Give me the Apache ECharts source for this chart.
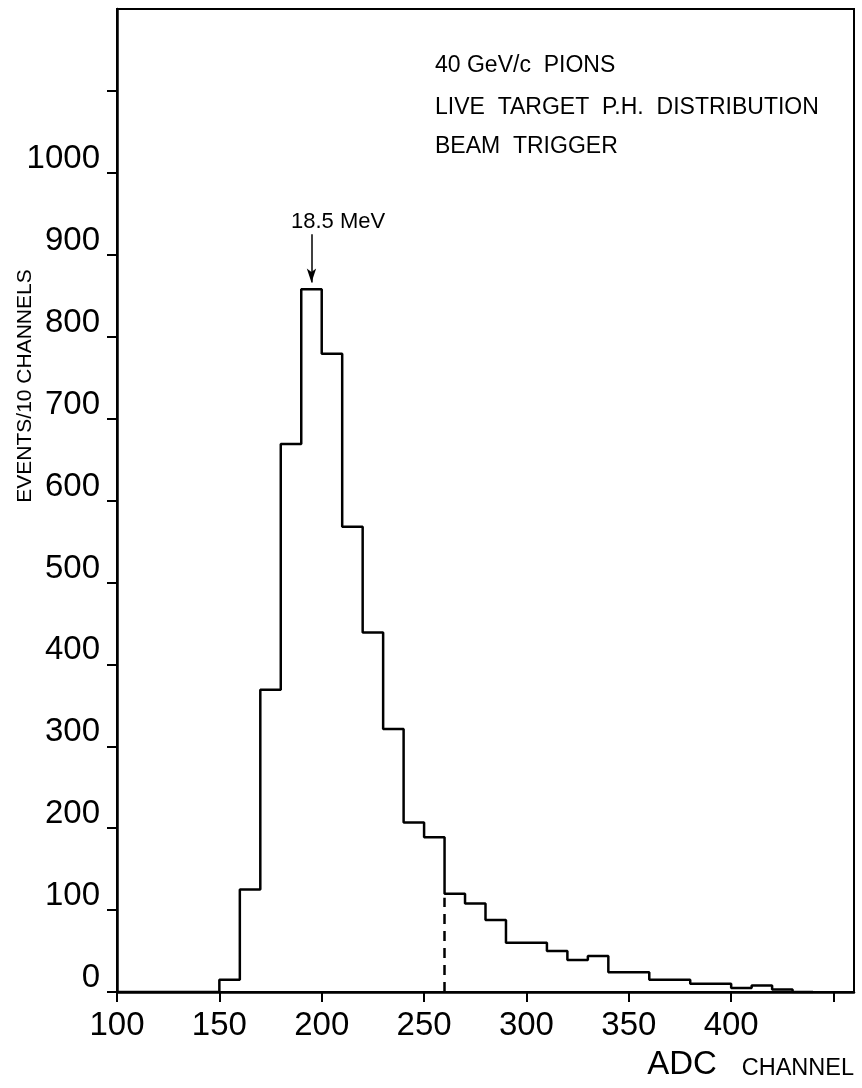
<!DOCTYPE html>
<html>
<head>
<meta charset="utf-8">
<script src="https://cdn.jsdelivr.net/npm/echarts@6/dist/echarts.min.js"></script>
<style>
  html, body { margin: 0; padding: 0; background: #fff; }
  #chart { width: 862px; height: 1088px; }
</style>
</head>
<body>
<div id="chart"></div>
<script>
// histogram bins: 10 ADC channels each, starting at channel 100
const binStart = 100;
const binWidth = 10;
const counts = [0, 0, 0, 0, 0, 15, 125, 369, 669, 858, 779, 568, 439, 321, 207, 189, 120, 108, 88,
    60, 60, 50, 39, 44, 24, 24, 15, 15, 10, 10, 5, 8, 3, 0];
const xTicks = [100, 150, 200, 250, 300, 350, 400, 450];
const xLabels = [100, 150, 200, 250, 300, 350, 400];
const yTicks = [0, 100, 200, 300, 400, 500, 600, 700, 800, 900, 1000, 1100];
const yLabels = [0, 100, 200, 300, 400, 500, 600, 700, 800, 900, 1000];
const notes = ['40 GeV/c  PIONS', 'LIVE  TARGET  P.H.  DISTRIBUTION', 'BEAM  TRIGGER'];
const peakNote = '18.5 MeV';
const cutChannel = 260;

const font = '"Liberation Sans", Arial, sans-serif';

const points = counts.map((c, i) => [binStart + i * binWidth, c]);
points.push([binStart + counts.length * binWidth, 0]);

const chart = echarts.init(document.getElementById('chart'));
chart.setOption({
    animation: false,
    backgroundColor: '#fff',
    grid: {
        left: 117,
        right: 8,
        top: 9,
        bottom: 96,
        show: true,
        borderColor: '#000',
        borderWidth: 2,
    },
    xAxis: {
        type: 'value',
        min: 100,
        max: 460,
        interval: 50,
        splitLine: { show: false },
        axisLine: { lineStyle: { color: '#000', width: 2.5 } },
        axisTick: { inside: false, length: 10, customValues: xTicks, lineStyle: { color: '#000', width: 2 } },
        axisLabel: {
            margin: 17,
            color: '#000',
            fontSize: 33,
            fontFamily: font,
            customValues: xLabels,
            formatter: (v) => String(v),
        },
    },
    yAxis: {
        type: 'value',
        min: 0,
        max: 1200,
        interval: 100,
        splitLine: { show: false },
        axisLine: { lineStyle: { color: '#000', width: 2.5 } },
        axisTick: { inside: false, length: 10, customValues: yTicks, lineStyle: { color: '#000', width: 2 } },
        axisLabel: {
            margin: 17,
            color: '#000',
            fontSize: 33,
            fontFamily: font,
            verticalAlign: 'bottom',
            lineHeight: 28,
            customValues: yLabels,
            formatter: (v) => String(v),
        },
    },
    series: [
        {
            type: 'line',
            step: 'end',
            data: points,
            symbol: 'none',
            lineStyle: { color: '#000', width: 2.5 },
            z: 5,
            markLine: {
                silent: true,
                symbol: ['none', 'none'],
                label: { show: false },
                data: [
                    [
                        { coord: [cutChannel, 0], lineStyle: { type: [10, 7], width: 2.5, color: '#000' } },
                        { coord: [cutChannel, 115] },
                    ],
                    [
                        { coord: [195, 925], symbol: 'none', lineStyle: { type: 'solid', width: 1.5, color: '#000' } },
                        { coord: [195, 866], symbol: 'arrow', symbolSize: [7, 14] },
                    ],
                ],
            },
            markPoint: {
                silent: true,
                symbol: 'circle',
                symbolSize: 1,
                itemStyle: { color: 'rgba(0,0,0,0)' },
                label: {
                    show: true,
                    position: 'inside',
                    color: '#000',
                    fontSize: 22,
                    fontFamily: font,
                    formatter: peakNote,
                },
                data: [{ coord: [208, 940] }],
            },
        },
    ],
    graphic: [
        ...notes.map((t, i) => ({
            type: 'text',
            left: 435,
            top: [54, 96, 135][i],
            style: { text: t, fontSize: 23, fontFamily: font, fill: '#000' },
        })),
        {
            type: 'text',
            x: 25,
            y: 386,
            rotation: Math.PI / 2,
            style: {
                text: 'EVENTS/10 CHANNELS',
                fontSize: 21,
                fontFamily: font,
                fill: '#000',
                align: 'center',
                verticalAlign: 'middle',
            },
        },
        {
            type: 'text',
            right: 8,
            top: 1048,
            style: {
                text: '{a|ADC  }{b| CHANNEL}',
                fontFamily: font,
                fill: '#000',
                rich: {
                    a: { fontSize: 33, fontFamily: font, fill: '#000', verticalAlign: 'bottom' },
                    b: { fontSize: 23.5, fontFamily: font, fill: '#000', verticalAlign: 'bottom' },
                },
            },
        },
    ],
});
</script>
</body>
</html>
